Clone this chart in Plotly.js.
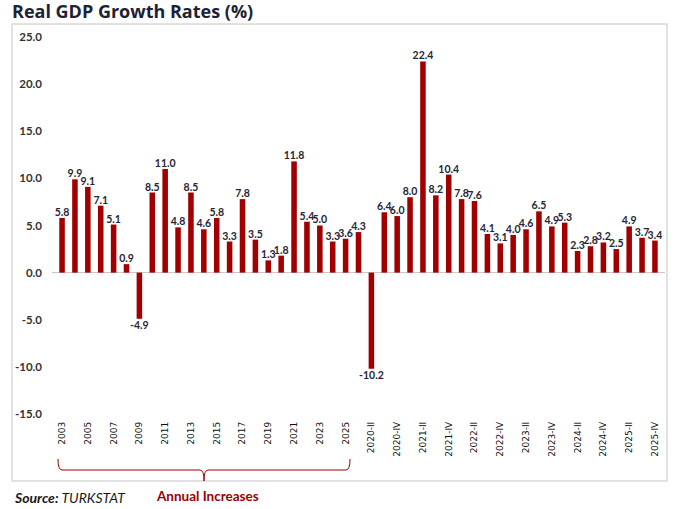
<!DOCTYPE html>
<html>
<head>
<meta charset="utf-8">
<script src="https://cdn.plot.ly/plotly-3.0.1.min.js"></script>
<style>html,body{margin:0;padding:0;background:#fff;}#chart{width:675px;height:509px;}</style>
</head>
<body>
<div id="chart"></div>
<script>
const annualYears = ["2003","2004","2005","2006","2007","2008","2009","2010","2011","2012","2013","2014","2015","2016","2017","2018","2019","2020","2021","2022","2023","2024","2025"];
const annualValues = [5.8,9.9,9.1,7.1,5.1,0.9,-4.9,8.5,11.0,4.8,8.5,4.6,5.8,3.3,7.8,3.5,1.3,1.8,11.8,5.4,5.0,3.3,3.6];
const quarterLabels = ["2020-I","2020-II","2020-III","2020-IV","2021-I","2021-II","2021-III","2021-IV","2022-I","2022-II","2022-III","2022-IV","2023-I","2023-II","2023-III","2023-IV","2024-I","2024-II","2024-III","2024-IV","2025-I","2025-II","2025-III","2025-IV"];
const quarterValues = [4.3,-10.2,6.4,6.0,8.0,22.4,8.2,10.4,7.8,7.6,4.1,3.1,4.0,4.6,6.5,4.9,5.3,2.3,2.8,3.2,2.5,4.9,3.7,3.4];
const yTicks = [-15,-10,-5,0,5,10,15,20,25];

const cats = annualYears.concat(quarterLabels);
const vals = annualValues.concat(quarterValues);
const shownTicks = cats.filter((c,i)=>i%2===0);

const W=675,H=509,L=52,R=10,T=30,B=90;
const pw=W-L-R, ph=H-T-B;
const px=x=>(x-L)/pw, py=y=>(H-B-y)/ph;

const bracket = `M ${px(58)},${py(459)} Q ${px(58)},${py(470)} ${px(62)},${py(470)} L ${px(200)},${py(470)} Q ${px(204)},${py(470)} ${px(204)},${py(481)} Q ${px(204)},${py(470)} ${px(208)},${py(470)} L ${px(346)},${py(470)} Q ${px(350)},${py(470)} ${px(350)},${py(459)}`;

const trace = {
  type:'bar', x:cats, y:vals,
  marker:{color:'#a20000'},
  text: vals.map(v=>v.toFixed(1)),
  textposition:'outside', textangle:0, constraintext:'none', cliponaxis:false,
  textfont:{family:'Lato, "Open Sans", sans-serif', size:10.5, color:'#262636', weight:'bold'},
  hoverinfo:'x+y'
};

const layout = {
  width:W, height:H,
  margin:{l:L,r:R,t:T,b:B},
  paper_bgcolor:'#fff', plot_bgcolor:'#fff',
  showlegend:false,
  bargap:0.57,
  font:{family:'Lato, "Open Sans", sans-serif', color:'#222'},
  title:{text:'<b>Real GDP Growth Rates (%)</b>', x:12/W, xanchor:'left', xref:'container', y:1-12/H, yanchor:'middle', yref:'container',
    font:{family:'"Open Sans", Lato, sans-serif', size:18, color:'#1c2233'}},
  xaxis:{type:'category', range:[-0.78,46.78], tickvals:shownTicks, ticktext:shownTicks, tickangle:-90,
    showgrid:false, zeroline:false, showline:false, ticks:'', tickfont:{family:'"DejaVu Sans", sans-serif', size:9, color:'#111'}, fixedrange:true},
  yaxis:{range:[-15.53,25.74], tickvals:yTicks, ticktext:yTicks.map(v=>v.toFixed(1)), showgrid:false,
    zeroline:true, zerolinecolor:'#c8c8c8', zerolinewidth:1, showline:false, ticks:'', ticklabelstandoff:9,
    tickfont:{family:'Lato, "Open Sans", sans-serif', size:11.5, color:'#333', weight:'bold'}, fixedrange:true},
  shapes:[
    {type:'rect', xref:'paper', yref:'paper', x0:px(12), x1:px(667), y0:py(481), y1:py(24), line:{color:'#d9d9d9', width:1.5}, fillcolor:'rgba(0,0,0,0)', layer:'below'},
    {type:'path', xref:'paper', yref:'paper', path:bracket, line:{color:'#a20000', width:1}}
  ],
  annotations:[
    {xref:'paper', yref:'paper', x:px(12), y:py(497), xanchor:'left', yanchor:'middle', showarrow:false,
      text:'<b><i>Source:</i></b><i> TURKSTAT</i>', font:{family:'Lato, "Open Sans", sans-serif', size:14, color:'#1a1a1a'}},
    {xref:'paper', yref:'paper', x:px(154), y:py(496), xanchor:'left', yanchor:'middle', showarrow:false,
      text:'<b>Annual Increases</b>', font:{family:'Lato, "Open Sans", sans-serif', size:13.5, color:'#9b0000'}}
  ]
};

Plotly.newPlot('chart',[trace],layout,{displayModeBar:false, staticPlot:true});
</script>
</body>
</html>
